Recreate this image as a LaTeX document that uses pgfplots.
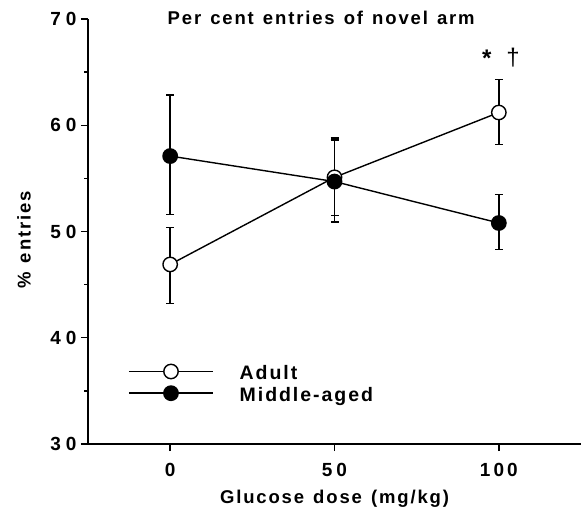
\documentclass[border=0pt]{standalone}
\usepackage{pgfplots}
\pgfplotsset{compat=1.18}
\usepackage{fontspec}
\setmainfont{Liberation Sans}
\newfontfamily\lsf[LetterSpace=10, WordSpace=1.3]{Liberation Sans}
\begin{document}
\begin{tikzpicture}
\begin{axis}[
  name=ax,
  scale only axis, width=493pt, height=425pt,
  xmin=-25, xmax=125, ymin=30, ymax=70,
  axis lines=left,
  axis line style={line width=1.4pt, -},
  xtick={0,50,100}, ytick={30,40,50,60,70},
  xticklabels={0, 5\kern4pt0, 1\kern3pt0\kern3pt0},
  yticklabels={3\kern5pt0, 4\kern5pt0, 5\kern5pt0, 6\kern5pt0, 7\kern5pt0},
  minor ytick={35,45,55,65},
  tick align=outside,
  major tick length=7pt, minor tick length=3.5pt,
  every tick/.style={line width=1.4pt, black},
  ticklabel style={font=\fontsize{19}{22}\selectfont\bfseries},
  yticklabel style={anchor=east, xshift=-1pt},
  xticklabel style={yshift=-9pt},
  title={\lsf\bfseries Per cent entries of novel arm},
  title style={font=\fontsize{18.5}{22}\selectfont, at={(rel axis cs:0.473,1)}, anchor=base, yshift=-12pt},
  xlabel={\lsf\bfseries Glucose dose (mg/kg)},
  xlabel style={font=\fontsize{18.5}{22}\selectfont, at={(rel axis cs:0.5,0)}, anchor=base, yshift=-59pt},
  ylabel={\lsf\bfseries \% entries},
  ylabel style={font=\fontsize{18.5}{22}\selectfont, at={(rel axis cs:-0.1298,0.48)}, anchor=center},
  clip=false,
  legend image code/.code={\draw[#1, mark repeat=2, mark phase=2] plot coordinates {(0pt,4.5pt) (42pt,4.5pt) (84pt,4.5pt)};},
  legend style={draw=none, fill=none, inner sep=0pt, at={(axis cs:-12.8,35.46)}, anchor=west,
    font=\fontsize{19.5}{24}\lsf\bfseries, column sep=26pt, row sep=0pt,
    nodes={inner sep=0pt, text height=14pt, text depth=6pt}},
  legend cell align=left,
]
\addplot[black, line width=1.4pt, mark=*, mark size=7.2pt, mark options={fill=white, line width=1.4pt},
  error bars/.cd, y dir=both, y explicit,
  error bar style={line width=1.4pt},
  error mark options={rotate=90, mark size=4pt, line width=1.4pt}]
coordinates {
  (0,46.9) += (0,3.5) -= (0,3.7)
  (50,55.1) += (0,3.7) -= (0,3.6)
  (100,61.2) += (0,3.1) -= (0,3.0)
};
\addlegendentry{Adult}
\addplot[black, line width=1.4pt, mark=*, mark size=7.2pt, mark options={fill=black, line width=1.4pt},
  error bars/.cd, y dir=both, y explicit,
  error bar style={line width=1.4pt},
  error mark options={rotate=90, mark size=4pt, line width=1.4pt}]
coordinates {
  (0,57.1) += (0,5.75) -= (0,5.5)
  (50,54.7) += (0,3.9) -= (0,3.8)
  (100,50.8) += (0,2.7) -= (0,2.5)
};
\addlegendentry{Middle-aged}
\node[font=\fontsize{24}{24}\bfseries] at (axis cs:96.3,66.3) {*};
\node[font=\fontsize{24}{26}\selectfont] at (axis cs:104.3,66.4) {\textdagger};
\end{axis}
\pgfresetboundingbox
\path ([xshift=-88pt,yshift=-65pt]ax.south west) rectangle ([yshift=19pt]ax.north east);
\end{tikzpicture}
\end{document}
